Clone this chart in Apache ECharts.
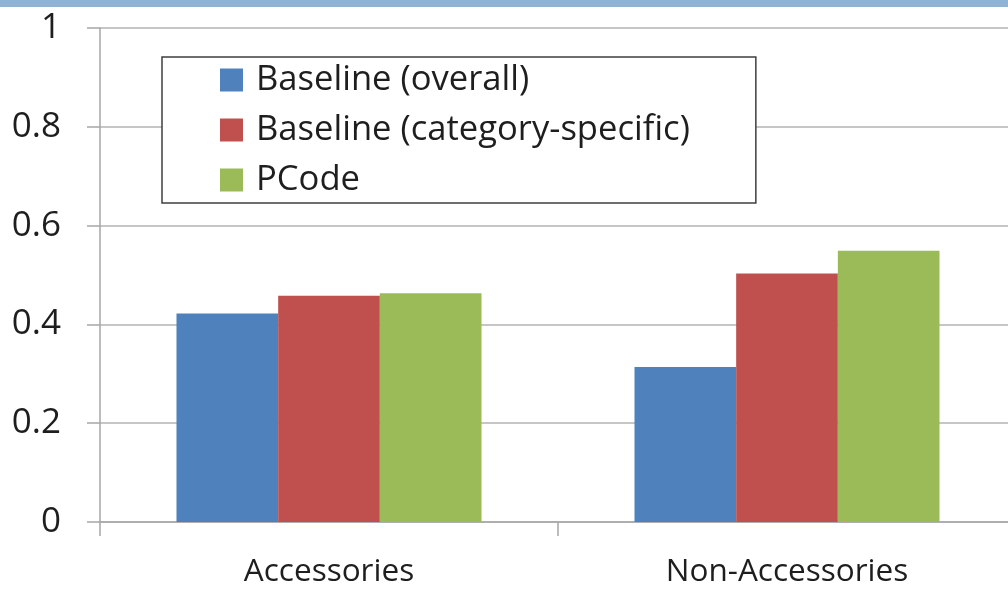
<!DOCTYPE html>
<html>
<head>
<meta charset="utf-8">
<script src="https://cdn.jsdelivr.net/npm/echarts@6/dist/echarts.min.js"></script>
<style>
  html, body { margin: 0; padding: 0; background: #fff; }
  #chart { width: 1008px; height: 590px; }
</style>
</head>
<body>
<div id="chart"></div>
<script>
// Categories and scores per method
const categories = ['Accessories', 'Non-Accessories'];
const seriesNames = ['Baseline (overall)', 'Baseline (category-specific)', 'PCode'];
const baselineOverall = [0.422, 0.314];
const baselineCategory = [0.458, 0.503];
const pcode = [0.463, 0.549];
const seriesColors = ['#4f81bd', '#c0504d', '#9bbb59'];

const FONT = '"Open Sans", Lato, sans-serif';
const chart = echarts.init(document.getElementById('chart'));

const values = [baselineOverall, baselineCategory, pcode];

chart.setOption({
  animation: false,
  backgroundColor: '#ffffff',
  graphic: [{
    type: 'rect',
    shape: { x: 0, y: 0, width: 1008, height: 7 },
    style: { fill: '#8fb2d5' },
    silent: true
  }],
  legend: {
    orient: 'vertical',
    left: 162,
    top: 57,
    padding: [5, 66, 5, 58],
    itemGap: 14,
    itemWidth: 23,
    itemHeight: 23,
    backgroundColor: '#ffffff',
    borderColor: '#3f3f3f',
    borderWidth: 1.5,
    borderRadius: 0,
    icon: 'rect',
    textStyle: {
      fontFamily: FONT,
      fontSize: 34.6,
      lineHeight: 36,
      color: '#1e1e1e',
      padding: [0, 0, 0, 8]
    },
    data: seriesNames
  },
  grid: {
    left: 100,
    width: 916,
    top: 28,
    bottom: 68,
    containLabel: false,
    outerBoundsMode: 'none'
  },
  xAxis: {
    type: 'category',
    data: categories,
    axisLine: { lineStyle: { color: '#a6a6a6', width: 1.5 } },
    axisTick: { show: true, length: 14, lineStyle: { color: '#a6a6a6', width: 1.5 } },
    axisLabel: {
      fontFamily: FONT,
      fontSize: 31.5,
      color: '#1e1e1e',
      margin: 34
    }
  },
  yAxis: {
    type: 'value',
    min: 0,
    max: 1,
    interval: 0.2,
    axisLine: { show: true, lineStyle: { color: '#a6a6a6', width: 1.5 } },
    axisTick: { show: true, inside: false, length: 13, lineStyle: { color: '#a6a6a6', width: 1.5 } },
    splitLine: { show: true, lineStyle: { color: '#b3b3b3', width: 1.5 } },
    axisLabel: {
      fontFamily: FONT,
      fontSize: 35,
      color: '#1e1e1e',
      margin: 39
    }
  },
  series: seriesNames.map((name, i) => ({
    name: name,
    type: 'bar',
    data: values[i],
    barGap: '0%',
    barCategoryGap: '33.4%',
    itemStyle: { color: seriesColors[i] }
  }))
});
</script>
</body>
</html>
